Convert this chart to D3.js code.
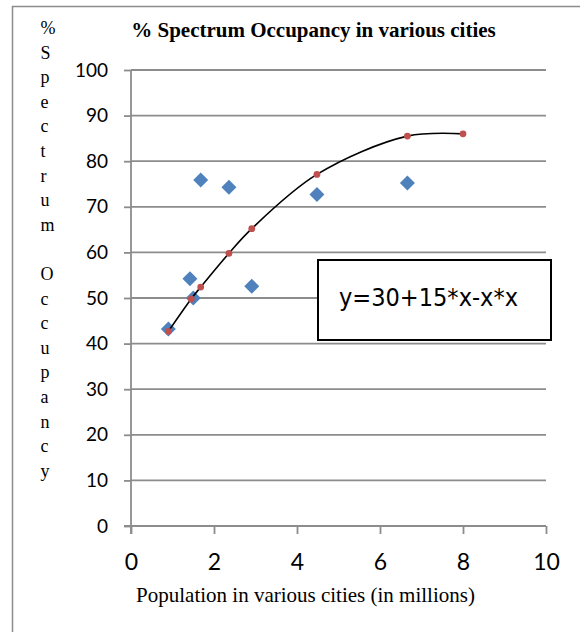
<!DOCTYPE html>
<html>
<head>
<meta charset="utf-8">
<script src="https://cdn.jsdelivr.net/npm/d3@7"></script>
<style>
  body { margin: 0; background: #fff; }
</style>
</head>
<body>
<svg width="580" height="632"></svg>
<script>
// data
const popCities = [0.9, 1.42, 1.5, 1.68, 2.36, 2.91, 4.48, 6.66];
const occCities = [43.2, 54.2, 50.0, 75.9, 74.3, 52.6, 72.7, 75.2];
const popFit = [0.9, 1.45, 1.68, 2.36, 2.91, 4.48, 6.66, 8.0];
const occFit = [42.7, 49.8, 52.4, 59.8, 65.2, 77.1, 85.5, 86.0];
const xTicks = [0, 2, 4, 6, 8, 10];
const yTicks = [0, 10, 20, 30, 40, 50, 60, 70, 80, 90, 100];
const titleText = "% Spectrum Occupancy in various cities";
const xLabel = "Population in various cities (in millions)";
const yLabel = "%Spectrum Occupancy";
const equation = "y=30+15*x-x*x";

let svg = d3.select("svg");

let x = d3.scaleLinear().domain([0, 10]).range([131, 546]);
let y = d3.scaleLinear().domain([0, 100]).range([526, 70]);

const grey = "#8c8c8c";

// outer frame
svg.append("rect")
    .attr("x", 12.5).attr("y", 6.5)
    .attr("width", 600).attr("height", 640)
    .attr("fill", "none")
    .attr("stroke", grey)
    .attr("stroke-width", 1.5);

// gridlines
svg.append("g")
    .selectAll("line")
    .data(yTicks.filter(d => d > 0))
    .enter()
    .append("line")
    .attr("x1", x(0)).attr("x2", x(10))
    .attr("y1", d => y(d)).attr("y2", d => y(d))
    .attr("stroke", grey)
    .attr("stroke-width", 1.8);

// y axis
let yAxis = svg.append("g")
    .attr("transform", `translate(${x(0)},0)`)
    .call(d3.axisLeft(y).tickValues(yTicks).tickSize(7).tickPadding(16));
yAxis.select(".domain").remove();
yAxis.selectAll("line").attr("stroke", grey).attr("stroke-width", 1.8);
yAxis.selectAll("text")
    .style("font-family", "Lato, 'Open Sans', sans-serif")
    .style("font-size", "19px")
    .attr("fill", "#000");

// x axis
let xAxis = svg.append("g")
    .attr("transform", `translate(0,${y(0)})`)
    .call(d3.axisBottom(x).tickValues(xTicks).tickSize(8).tickPadding(20));
xAxis.select(".domain").remove();
xAxis.selectAll("line").attr("stroke", grey).attr("stroke-width", 1.8);
xAxis.selectAll("text")
    .style("font-family", "Lato, 'Open Sans', sans-serif")
    .style("font-size", "23px")
    .attr("fill", "#000");

// axis lines
svg.append("line")
    .attr("x1", x(0)).attr("x2", x(0))
    .attr("y1", y(100)).attr("y2", y(0) + 8)
    .attr("stroke", grey).attr("stroke-width", 1.8);
svg.append("line")
    .attr("x1", x(0) - 7).attr("x2", x(10))
    .attr("y1", y(0)).attr("y2", y(0))
    .attr("stroke", grey).attr("stroke-width", 1.8);

// blue diamonds
svg.append("g")
    .selectAll("path")
    .data(popCities.map((p, i) => [p, occCities[i]]))
    .enter()
    .append("path")
    .attr("d", d3.symbol().type(d3.symbolSquare).size(112)())
    .attr("transform", d => `translate(${x(d[0])},${y(d[1])}) rotate(45)`)
    .attr("fill", "#4f81bd");

// fitted curve
let fitData = popFit.map((p, i) => [p, occFit[i]]);
svg.append("path")
    .datum(fitData)
    .attr("d", d3.line()
        .x(d => x(d[0]))
        .y(d => y(d[1]))
        .curve(d3.curveCatmullRom.alpha(0.5)))
    .attr("fill", "none")
    .attr("stroke", "#000")
    .attr("stroke-width", 1.6);

svg.append("g")
    .selectAll("circle")
    .data(fitData)
    .enter()
    .append("circle")
    .attr("cx", d => x(d[0]))
    .attr("cy", d => y(d[1]))
    .attr("r", 3.4)
    .attr("fill", "#c0504d");

// equation box
svg.append("rect")
    .attr("x", 318).attr("y", 260)
    .attr("width", 233).attr("height", 80)
    .attr("fill", "#fff")
    .attr("stroke", "#000")
    .attr("stroke-width", 2);
svg.append("text")
    .attr("x", 339).attr("y", 306)
    .attr("textLength", 179)
    .attr("lengthAdjust", "spacingAndGlyphs")
    .style("font-family", "'Liberation Sans Narrow', 'DejaVu Sans Condensed', sans-serif")
    .style("font-size", "24px")
    .text(equation);

// title
svg.append("text")
    .attr("x", 313.5).attr("y", 37)
    .attr("text-anchor", "middle")
    .style("font-family", "'Liberation Serif', 'Times New Roman', serif")
    .style("font-weight", "bold")
    .style("font-size", "21px")
    .text(titleText);

// x label
svg.append("text")
    .attr("x", 305.5).attr("y", 602)
    .attr("text-anchor", "middle")
    .style("font-family", "'Liberation Serif', 'Times New Roman', serif")
    .style("font-size", "21px")
    .text(xLabel);

// y label, one letter per line
svg.append("g")
    .selectAll("text")
    .data(yLabel.split(""))
    .enter()
    .append("text")
    .attr("x", 40.5)
    .attr("y", (d, i) => 34 + i * 24.6)
    .style("font-family", "'Liberation Serif', 'Times New Roman', serif")
    .style("font-size", "18px")
    .text(d => d);
</script>
</body>
</html>
